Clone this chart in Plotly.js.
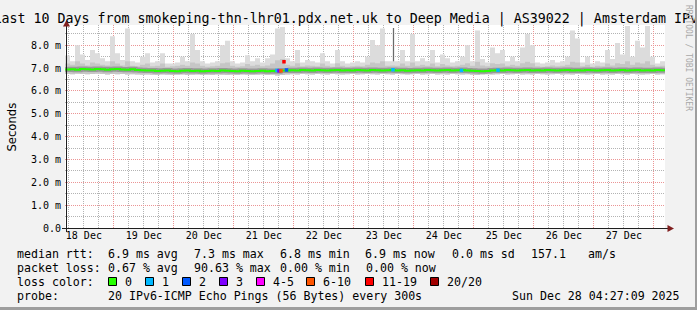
<!DOCTYPE html>
<html><head><meta charset="utf-8">
<script src="https://cdn.plot.ly/plotly-3.0.1.min.js"></script>
<style>
html,body{margin:0;padding:0;background:#f2f2f2;}
#wrap{position:relative;width:697px;height:310px;overflow:hidden;}
#chart{width:697px;height:310px;}
#frame{position:absolute;left:0;top:0;width:697px;height:310px;box-sizing:border-box;border-right:2px solid #9e9e9e;border-bottom:3px solid #9e9e9e;pointer-events:none;}
</style></head><body>
<div id="wrap"><div id="chart"></div><div id="frame"></div></div>
<script>
// ---------- data ----------
const startMs = Date.UTC(2025, 11, 18, 4, 27, 9);   // 10 days ending Sun Dec 28 04:27:09 2025
const endMs = Date.UTC(2025, 11, 28, 4, 27, 9);
const stepMs = 2 * 3600 * 1000;                       // 2-hour consolidation bins

const dayLabels = ['18 Dec','19 Dec','20 Dec','21 Dec','22 Dec','23 Dec','24 Dec','25 Dec','26 Dec','27 Dec'];
const dayLabelPos = ['2025-12-18 12:00','2025-12-19 12:00','2025-12-20 12:00','2025-12-21 12:00','2025-12-22 12:00',
                     '2025-12-23 12:00','2025-12-24 12:00','2025-12-25 12:00','2025-12-26 12:00','2025-12-27 12:00'];
const yTickVals = [0,1,2,3,4,5,6,7,8];
const yTickText = ['0.0','1.0 m','2.0 m','3.0 m','4.0 m','5.0 m','6.0 m','7.0 m','8.0 m'];

// smoke (ms) per 2-hour bin
const smokeHi = [7.55,7.3,8.0,7.6,7.36,7.79,7.65,7.43,7.3,8.4,
                 7.65,7.36,8.74,7.3,7.25,7.5,7.65,7.25,7.3,7.65,
                 7.2,7.2,7.25,7.5,7.3,8.5,7.8,7.3,7.2,7.25,
                 7.3,8.0,8.2,7.3,7.2,7.25,7.57,7.3,7.43,7.25,
                 7.43,7.6,8.74,8.8,7.43,7.3,7.8,7.25,7.36,7.3,
                 7.25,7.65,7.3,7.2,7.8,7.3,7.2,7.25,7.3,7.25,
                 7.5,8.23,8.0,8.74,7.3,7.3,7.3,7.8,7.3,8.5,
                 7.3,7.43,7.3,7.8,7.25,7.6,7.43,7.25,7.3,7.5,
                 8.0,7.3,8.65,7.4,7.25,7.9,7.65,7.8,7.3,7.5,
                 7.3,7.9,8.5,8.0,7.25,7.2,7.25,7.36,7.25,7.3,
                 7.5,8.65,8.3,7.25,7.5,7.2,7.3,7.25,7.8,7.4,
                 8.1,7.6,8.85,7.5,8.2,7.9,8.85,7.5,7.2,7.3];
const smokeMid = [7.2,7.15,7.3,7.2,7.12,7.25,7.2,7.15,7.12,7.3,
                  7.2,7.12,7.3,7.1,7.08,7.15,7.2,7.08,7.1,7.2,
                  7.06,7.08,7.1,7.15,7.1,7.25,7.2,7.1,7.06,7.08,
                  7.1,7.22,7.25,7.1,7.06,7.08,7.18,7.1,7.15,7.08,
                  7.12,7.2,7.35,7.4,7.15,7.1,7.22,7.08,7.12,7.1,
                  7.08,7.2,7.1,7.06,7.22,7.1,7.06,7.08,7.1,7.08,
                  7.15,7.25,7.22,7.3,7.1,7.12,7.1,7.2,7.1,7.25,
                  7.1,7.15,7.1,7.2,7.08,7.18,7.12,7.08,7.1,7.15,
                  7.22,7.1,7.28,7.12,7.08,7.22,7.18,7.2,7.1,7.15,
                  7.1,7.22,7.28,7.22,7.08,7.06,7.08,7.12,7.08,7.1,
                  7.15,7.28,7.25,7.08,7.15,7.06,7.1,7.08,7.2,7.12,
                  7.22,7.18,7.3,7.15,7.25,7.2,7.3,7.15,7.08,7.1];
const smokeLo = [6.74,6.73,6.75,6.74,6.73,6.74,6.75,6.74,6.72,6.74,
                 6.73,6.74,6.72,6.73,6.72,6.71,6.72,6.71,6.7,6.72,
                 6.71,6.7,6.71,6.72,6.7,6.71,6.72,6.7,6.71,6.7,
                 6.72,6.71,6.7,6.71,6.7,6.72,6.71,6.7,6.71,6.72,
                 6.7,6.71,6.68,6.7,6.72,6.73,6.72,6.74,6.73,6.72,
                 6.74,6.73,6.72,6.74,6.73,6.72,6.73,6.74,6.72,6.73,
                 6.74,6.73,6.72,6.74,6.73,6.72,6.74,6.73,6.72,6.73,
                 6.74,6.72,6.73,6.74,6.72,6.73,6.72,6.74,6.73,6.72,
                 6.73,6.71,6.7,6.72,6.73,6.72,6.73,6.74,6.72,6.73,
                 6.74,6.72,6.73,6.72,6.74,6.73,6.72,6.73,6.74,6.72,
                 6.73,6.72,6.74,6.73,6.72,6.73,6.74,6.72,6.73,6.72,
                 6.74,6.73,6.72,6.74,6.73,6.72,6.73,6.74,6.72,6.73];
const median = [6.94,6.95,6.93,6.96,6.95,6.94,6.96,6.95,6.93,6.95,
                6.96,6.94,6.93,6.95,6.92,6.91,6.9,6.9,6.88,6.89,
                6.9,6.88,6.87,6.89,6.9,6.88,6.89,6.87,6.88,6.89,
                6.88,6.9,6.89,6.88,6.87,6.89,6.88,6.87,6.88,6.89,
                6.87,6.88,6.87,6.9,6.9,6.91,6.9,6.92,6.91,6.9,
                6.92,6.91,6.9,6.91,6.92,6.9,6.91,6.9,6.92,6.91,
                6.9,6.92,6.91,6.9,6.91,6.92,6.9,6.91,6.89,6.9,
                6.91,6.9,6.92,6.91,6.9,6.91,6.92,6.9,6.91,6.92,
                6.9,6.89,6.88,6.87,6.88,6.9,6.91,6.9,6.92,6.91,
                6.9,6.91,6.92,6.9,6.91,6.9,6.92,6.91,6.9,6.91,
                6.92,6.9,6.91,6.9,6.92,6.91,6.9,6.91,6.92,6.9,
                6.91,6.92,6.9,6.91,6.92,6.9,6.91,6.9,6.92,6.91];

// periods with packet loss (lost pings out of 20)
const lossTimes = ['2025-12-21 17:15','2025-12-21 18:03','2025-12-21 18:51','2025-12-21 20:03',
                   '2025-12-21 21:03','2025-12-23 15:39','2025-12-24 19:03','2025-12-25 09:39'];
const lossMedian = [6.9,6.88,6.88,7.28,6.92,6.93,6.9,6.91];
const lossCount = [1,3,7,12,2,1,1,1];

// dark smoke columns during the loss events
const darkTimes = ['2025-12-21 18:39','2025-12-21 19:51','2025-12-23 15:51'];
const darkTop = [8.7,8.78,8.76];
const darkBase = [6.85,6.85,6.95];

// loss colour legend
const lossLegendLabels = ['0','1','2','3','4-5','6-10','11-19','20/20'];
const lossLegendMax = [0,1,2,3,5,10,19,20];
const lossLegendColors = ['#26ff00','#00b8ff','#0059ff','#7e00ff','#ff00ff','#ff5500','#ff0000','#a10000'];

// ---------- drawing ----------
function iso(ms){ return new Date(ms).toISOString().slice(0,19).replace('T',' '); }
const binX = smokeHi.map((_, i) => iso(startMs + i * stepMs)).concat([iso(startMs + smokeHi.length * stepMs)]);
const ext = a => a.concat([a[a.length - 1]]);
function stepTrace(y, extra){
  return Object.assign({type:'scatter', mode:'lines', x: binX, y: ext(y),
    line:{shape:'hv', width:0}, hoverinfo:'skip', showlegend:false}, extra || {});
}
function lossColor(n){
  for (let i = 0; i < lossLegendMax.length; i++) if (n <= lossLegendMax[i]) return lossLegendColors[i];
  return lossLegendColors[lossLegendColors.length - 1];
}

const traces = [
  stepTrace(smokeLo),
  stepTrace(smokeHi, {fill:'tonexty', fillcolor:'#dcdcdc'}),
  stepTrace(smokeLo),
  stepTrace(smokeMid, {fill:'tonexty', fillcolor:'#c6c6c6'}),
  {type:'bar', x: darkTimes, base: darkBase, y: darkTop.map((t, i) => t - darkBase[i]),
   width:[1.2*3600e3, 1.2*3600e3, 0.5*3600e3],
   marker:{color:['#707070','#3a3a3a','#6a6a6a'], line:{width:0}}, hoverinfo:'skip', showlegend:false},
  stepTrace(median, {line:{shape:'hv', width:5, color:'#999999'}}),
  stepTrace(median, {line:{shape:'hv', width:2, color:'#26ff00'}}),
  {type:'scatter', mode:'markers', x: lossTimes, y: lossMedian,
   marker:{symbol:'square', size:3.5, color: lossCount.map(lossColor), line:{width:0}},
   hoverinfo:'skip', showlegend:false},
  {type:'scatter', mode:'markers', x: [], y: [], xaxis:'x2', yaxis:'y', showlegend:false, hoverinfo:'skip'}
];

const L = 65, T = 25, W = 600, H = 203;
const px = p => (p - L) / W;
const py = p => (T + H - p) / H;
const mono = 'DejaVu Sans Mono';
const fLeg = {family: mono, size: 11.6, color: '#000'};

function ann(text, x, y, extra){
  return Object.assign({xref:'paper', yref:'paper', x: px(x), y: py(y), text: text,
    showarrow:false, xanchor:'left', yanchor:'middle', font: fLeg, borderpad:0}, extra || {});
}

const annotations = [
  ann('Seconds', 11, 127.5, {xanchor:'center', textangle:-90, font:{family:'DejaVu Sans', size:11.6, color:'#000'}}),
  ann('RRDTOOL / TOBI OETIKER', 689, 58, {xanchor:'center', textangle:90, font:{family:mono, size:8, color:'#a8a8a8'}}),
  ann('median rtt:', 16, 254), ann('6.9 ms avg', 107, 254), ann('7.3 ms max', 193, 254),
  ann('6.8 ms min', 279, 254), ann('6.9 ms now', 364, 254), ann('0.0 ms sd', 451, 254),
  ann('157.1', 530, 254), ann('am/s', 587, 254),
  ann('packet loss:', 16, 268), ann('0.67 % avg', 107, 268), ann('90.63 % max', 193, 268),
  ann('0.00 % min', 279, 268), ann('0.00 % now', 365, 268),
  ann('loss color:', 16, 282),
  ann('probe:', 16, 296), ann('20 IPv6-ICMP Echo Pings (56 Bytes) every 300s', 107, 296),
  ann('Sun Dec 28 04:27:09 2025', 681, 296, {xanchor:'right'})
];
const sqLeft = [108.5, 145.5, 182.5, 219.5, 256.5, 306.5, 365.5, 430.5];
const shapes = [];
lossLegendLabels.forEach((lab, i) => {
  shapes.push({type:'rect', xref:'paper', yref:'paper', x0: px(sqLeft[i]), x1: px(sqLeft[i] + 8),
    y0: py(285.5), y1: py(277.5), fillcolor: lossLegendColors[i], line:{color:'#000', width:1}});
  annotations.push(ann(lab, sqLeft[i] + 15.5, 282));
});
// axes with arrows
shapes.push({type:'line', xref:'paper', yref:'paper', x0: px(62), x1: px(668), y0: py(228.5), y1: py(228.5), line:{color:'#1f1f1f', width:1}});
shapes.push({type:'line', xref:'paper', yref:'paper', x0: px(66.5), x1: px(66.5), y0: py(232), y1: py(25), line:{color:'#1f1f1f', width:1}});
shapes.push({type:'path', xref:'paper', yref:'paper', fillcolor:'#801f1f', line:{width:0},
  path:`M ${px(667.5)} ${py(225)} L ${px(674)} ${py(228.5)} L ${px(667.5)} ${py(232)} Z`});
shapes.push({type:'path', xref:'paper', yref:'paper', fillcolor:'#801f1f', line:{width:0},
  path:`M ${px(63)} ${py(26.5)} L ${px(66.5)} ${py(20)} L ${px(70)} ${py(26.5)} Z`});

const majorGrid = 'rgb(235,149,149)', minorGrid = '#b3b3b3', dash = '1px,1px';
const xr = [iso(startMs), iso(endMs)];
const layout = {
  width: 697, height: 310,
  margin: {l: L, r: 697 - L - W, t: T, b: 310 - T - H, pad: 0},
  paper_bgcolor: '#f2f2f2', plot_bgcolor: '#ffffff',
  showlegend: false, barmode: 'overlay',
  title: {text: 'Last 10 Days from smokeping-thn-lhr01.pdx.net.uk to Deep Media | AS39022 | Amsterdam IPv6',
          font: {family: mono, size: 13.3, color: '#000'},
          xref: 'container', x: 349.7 / 697, xanchor: 'center',
          yref: 'container', y: 1 - 18.8 / 310, yanchor: 'middle'},
  xaxis: {type: 'date', range: xr, tickmode: 'array', tickvals: dayLabelPos, ticktext: dayLabels,
          showgrid: false, zeroline: false, showline: false, ticks: '',
          tickfont: {family: mono, size: 10, color: '#000'}, fixedrange: true},
  xaxis2: {type: 'date', overlaying: 'x', range: xr, tickmode: 'linear', tick0: '2025-12-18 00:00', dtick: 86400000,
           showgrid: true, gridcolor: majorGrid, griddash: dash, gridwidth: 1,
           minor: {tickmode: 'linear', tick0: '2025-12-18 00:00', dtick: 21600000, showgrid: true,
                   gridcolor: minorGrid, griddash: dash, gridwidth: 1},
           showticklabels: false, ticks: '', zeroline: false, showline: false, fixedrange: true},
  yaxis: {range: [0, 8.89], tickmode: 'array', tickvals: yTickVals, ticktext: yTickText,
          showgrid: true, gridcolor: majorGrid, griddash: dash, gridwidth: 1,
          minor: {tickmode: 'linear', tick0: 0, dtick: 0.5, showgrid: true, gridcolor: minorGrid, griddash: dash, gridwidth: 1},
          zeroline: false, showline: false, ticks: '', ticklabelstandoff: 3,
          tickfont: {family: mono, size: 10, color: '#000'}, fixedrange: true},
  annotations: annotations,
  shapes: shapes
};
Plotly.newPlot('chart', traces, layout, {staticPlot: true, displayModeBar: false});
</script></body></html>
